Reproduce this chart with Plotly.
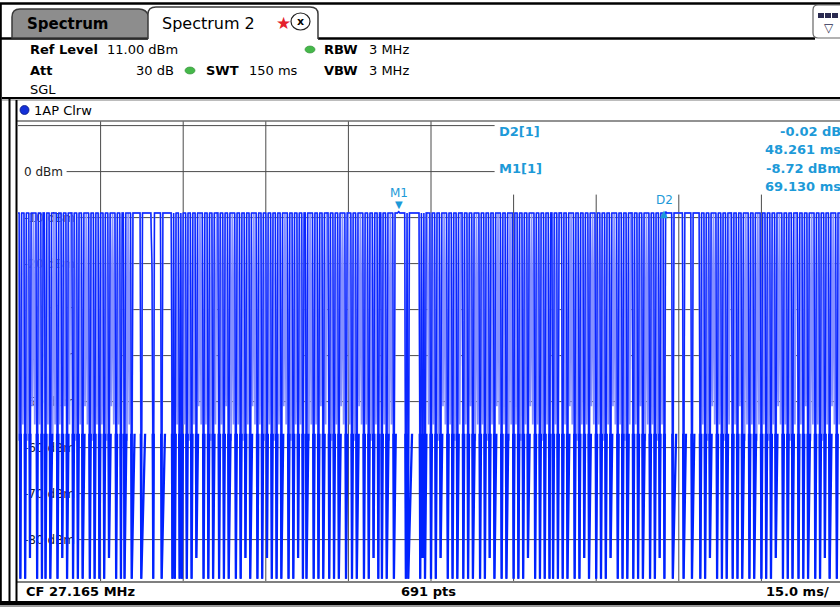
import plotly.graph_objects as go

# ---------------- data ----------------
# trace codes, one character per sweep point, one string per 15 ms division
trace_div0 = "hHoHgHoHhHnHfHgHoHgHoHHoHgHoHhHgHoHgHnHfHoHgHHoHhHoHgHoHfHgHoHhHoHgHo"
trace_div1 = "HgHoHhHnHfHgHoHgHoHHoHhHgHo" "HHHHHHH" "o" "HHHHHHHH" "bo" "HHHHHH" "o" "HHHHHHH" "HoHoHgHoHo"
trace_div2 = "HgHoHhHoHgHnHfHgHoHgHoHhHoHgHHoHgHoHfHoHhHgHoHgHoHhHnHgHoHfHgHoHgHoHh"
trace_div3 = "HnHgHoHhHoHgHoHfHgHoHhHoHgHnHgHoHHoHhHgHoHgHoHfHoHgHHoHhHoHgHoHfHgHoH"
trace_div4 = "HgHoHhHoHfHgHoHgHoHhHnHgHoHHoHgHoHhHgH" "o" "HHHTHHHHH" "oHo" "HHHHHHHHH" "oHnHo" "HHgH"
trace_div5 = "oHgHoHhHnHfHgHoHgHoHhHoHgHHoHgHoHfHoHhHgHoHgHoHhHnHgHoHfHgHoHgHoHhHgH"
trace_div6 = "oHgHoHhHoHgHnHfHgHoHgHoHhHoHgHoHHoHgHoHHHoHgHoHfHgHoHhHoHgHnHgHoHfHgH"
trace_div7 = "oHgHoHhHoHgHnHfHgHoHgHoHhHoHgHHoHgHoHfHoHhHgHoHgHoHhHnHgHo" "THHHHH" "o" "HHHH"
trace_div8 = "HHHH" "o" "HHHHHH" "o" "HHHHHH" "oHgHoHhHnHfHgHoHgHoHhHoHgHHoHgHoHfHoHhHgHoHgHoHhHgH"
trace_div9 = "oHgHoHhHoHgHnHfHgHoHgHoHhHoHgHHoHgHoHfHoHhHgHoHgHoHhHnHgHoHfHgHoHgHoHh"

level_of_code = {"T": -8.72, "H": -9.0, "b": -22.0, "f": -51.0, "g": -55.0,
                 "h": -58.5, "n": -84.0, "o": -88.5}

sweep_ms = 150.0
n_points = 691
ref_level_dbm = 11.0
y_bottom_dbm = -89.0

ytick_vals = [0, -10, -20, -30, -40, -50, -60, -70, -80]
ytick_text = ["0 dBm", "-10 dBm", "-20 dBm", "-30 dBm", "-40 dBm",
              "-50 dBm", "-60 dBm", "-70 dBm", "-80 dBm"]
x_grid_ms = [15, 30, 45, 60, 75, 90, 105, 120, 135]
y_grid_dbm = [10, 0, -10, -20, -30, -40, -50, -60, -70, -80]

m1_time_ms = 69.130
m1_level_dbm = -8.72
d2_delta_ms = 48.261
d2_delta_db = -0.02

# ---------------- build ----------------
codes = "".join([trace_div0, trace_div1, trace_div2, trace_div3, trace_div4,
                 trace_div5, trace_div6, trace_div7, trace_div8, trace_div9])
assert len(codes) == n_points, "len=%d" % len(codes)

levels = [level_of_code[c] for c in codes]
times = [i * sweep_ms / (n_points - 1) for i in range(n_points)]
deep_only = [v if (v <= -70 or v > -40) else -9.0 for v in levels]

W, H = 840, 607
ML, MR, MT, MB = 18, 0, 121, 26
PW, PH = W - ML - MR, H - MT - MB
PX_PER_MS = 826.0 / sweep_ms
x_max = PW / PX_PER_MS
low_band_top = -57.0  # lower band drawn with the heavier stroke
low_band_frac = (low_band_top - y_bottom_dbm) / (ref_level_dbm - y_bottom_dbm)


def px(x):
    return (x - ML) / PW


def py(y):
    return (H - MB - y) / PH


def ms_at(xpix):
    return (xpix - 18.4) / PX_PER_MS


fig = go.Figure()
fig.add_trace(go.Scatter(x=times, y=levels, mode="lines",
                         line=dict(color="#8590ff", width=1.7),
                         hoverinfo="skip"))
fig.add_trace(go.Scatter(x=times, y=deep_only, mode="lines",
                         line=dict(color="#0a26ff", width=1.3),
                         hoverinfo="skip"))
fig.add_trace(go.Scatter(x=times, y=deep_only, mode="lines", xaxis="x2", yaxis="y2",
                         line=dict(color="#0022ff", width=2.3),
                         hoverinfo="skip"))

shapes = []
GRID = "#4a4a4a"
for yv in y_grid_dbm:
    if yv >= 0:
        x0 = ms_at(67) if yv == 0 else 0
        x1 = ms_at(495)
    else:
        x0 = ms_at(78)
        x1 = x_max
    shapes.append(dict(type="line", xref="x", yref="y", x0=x0, x1=x1, y0=yv, y1=yv,
                       line=dict(color=GRID, width=1), layer="between"))
for xv in x_grid_ms:
    ytop = -5 if xv >= 90 else ref_level_dbm
    shapes.append(dict(type="line", xref="x", yref="y", x0=xv, x1=xv, y0=y_bottom_dbm, y1=ytop,
                       line=dict(color=GRID, width=1), layer="between"))


def rect(x0, y0, x1, y1, fill, line=None, lw=0, layer="above"):
    return dict(type="rect", xref="paper", yref="paper", x0=px(x0), x1=px(x1), y0=py(y1), y1=py(y0),
                fillcolor=fill, layer=layer, line=dict(width=lw, color=line or fill))


def hline(x0, x1, y, color, w):
    return dict(type="line", xref="paper", yref="paper", x0=px(x0), x1=px(x1), y0=py(y), y1=py(y),
                line=dict(color=color, width=w))


def vline(x, y0, y1, color, w):
    return dict(type="line", xref="paper", yref="paper", x0=px(x), x1=px(x), y0=py(y0), y1=py(y1),
                line=dict(color=color, width=w))


def path(pts_str, fill=None, color="#333", w=1.5):
    out = []
    for tok in pts_str.split():
        if "," in tok:
            a, b = tok.split(",")
            out.append("%.5f,%.5f" % (px(float(a)), py(float(b))))
        else:
            out.append(tok)
    d = dict(type="path", xref="paper", yref="paper", path=" ".join(out),
             line=dict(color=color, width=w))
    if fill:
        d["fillcolor"] = fill
    return d


shapes.append(hline(16, 840, 121, "#6e6e6e", 1.5))
shapes.append(hline(16, 840, 582, "#555555", 1.5))
shapes.append(hline(0, 840, 3.5, "#000", 2.5))
shapes.append(vline(0.8, 3, 607, "#000", 2))
shapes.append(hline(0, 148, 38.5, "#000", 2.5))
shapes.append(hline(318, 815, 38.5, "#000", 2.5))
shapes.append(hline(2, 840, 98, "#000", 2))
shapes.append(hline(2, 840, 100, "#7a7a7a", 1))
shapes.append(vline(9.5, 99, 604, "#000", 2))
shapes.append(vline(16.5, 100, 604, "#000", 2))
shapes.append(rect(0, 601, 840, 605, "#000"))
shapes.append(rect(0, 605, 840, 607, "#9a9a9a"))
shapes.append(path("M 12,38 L 12,17 Q 12,9 20,9 L 139,9 Q 146,9 149,16 L 152,38 Z",
                   fill="#8d8d8d", color="#3a3a3a", w=1.5))
shapes.append(path("M 148,40 L 148,14 Q 148,7 156,7 L 310,7 Q 318,7 318,14 L 318,40 Z",
                   fill="#ffffff", color="#ffffff", w=0.1))
shapes.append(path("M 148,39 L 148,14 Q 148,7 156,7 L 310,7 Q 318,7 318,14 L 318,39",
                   color="#3a3a3a", w=1.5))
shapes.append(dict(type="circle", xref="paper", yref="paper", x0=px(291), x1=px(310),
                   y0=py(30), y1=py(13), line=dict(color="#222", width=1.2), fillcolor="#fff"))
shapes.append(path("M 845,38 L 818,38 Q 813,38 813,33 L 813,10 Q 813,5 818,5 L 845,5",
                   color="#666", w=1.2))
for xx in (818, 825, 832):
    shapes.append(rect(xx, 13, xx + 6, 18, "#2a2a50"))
for (cx, cy) in ((310, 49.5), (190, 70.5)):
    shapes.append(dict(type="circle", xref="paper", yref="paper", x0=px(cx - 5), x1=px(cx + 5),
                       y0=py(cy + 3.5), y1=py(cy - 3.5), fillcolor="#45b84a",
                       line=dict(color="#2e8a32", width=0.6)))
shapes.append(dict(type="circle", xref="paper", yref="paper", x0=px(20), x1=px(29),
                   y0=py(114.5), y1=py(105.5), fillcolor="#1430d8", line=dict(color="#0a1a80", width=0.8)))

FONT = "DejaVu Sans"
annotations = []


def txt(x, y, s, size=13, color="#000", anchor="left", bold=False, yanchor="middle"):
    annotations.append(dict(xref="paper", yref="paper", x=px(x), y=py(y), text=("<b>%s</b>" % s) if bold else s,
                            showarrow=False, xanchor=anchor, yanchor=yanchor,
                            font=dict(family=FONT, size=size, color=color)))


txt(25, 24.5, "Spectrum", 15, bold=True)
txt(160, 23.5, "Spectrum 2", 16)
txt(283, 23, "★", 17, color="#e4202c", anchor="center")
txt(300.5, 21.5, "x", 11, anchor="center", bold=True)
txt(829, 28, "▽", 12, color="#2a2a50", anchor="center")

txt(28, 50, "Ref Level", 13, bold=True)
txt(105, 50, "11.00 dBm", 13)
txt(28, 70, "Att", 13, bold=True)
txt(176, 70, "30 dB", 13, anchor="right")
txt(204, 70, "SWT", 13, bold=True)
txt(247, 70, "150 ms", 13)
txt(322, 50, "RBW", 13, bold=True)
txt(367, 50, "3 MHz", 13)
txt(322, 70, "VBW", 13, bold=True)
txt(367, 70, "3 MHz", 13)
txt(28, 89.5, "SGL", 13)
txt(32, 110, "1AP Clrw", 13)

txt(24, 591.5, "CF 27.165 MHz", 13, bold=True)
txt(428, 591.5, "691 pts", 13, bold=True, anchor="center")
txt(831, 591.5, "15.0 ms/", 13, bold=True, anchor="right")

MK = "#1d9ad8"
txt(497, 131, "D2[1]", 13, color=MK, bold=True)
txt(497, 168, "M1[1]", 13, color=MK, bold=True)
txt(843, 131, "%.2f dB" % d2_delta_db, 13, color=MK, bold=True, anchor="right")
txt(843, 149.5, "%.3f ms" % d2_delta_ms, 13, color=MK, bold=True, anchor="right")
txt(843, 168, "%.2f dBm" % m1_level_dbm, 13, color=MK, bold=True, anchor="right")
txt(843, 186, "%.3f ms" % m1_time_ms, 13, color=MK, bold=True, anchor="right")

d2_time = m1_time_ms + d2_delta_ms
d2_level = m1_level_dbm + d2_delta_db
annotations.append(dict(x=m1_time_ms, y=m1_level_dbm, xref="x", yref="y", text="▼", showarrow=False,
                        yanchor="bottom", yshift=0, font=dict(family=FONT, size=10, color=MK)))
annotations.append(dict(x=m1_time_ms, y=m1_level_dbm, xref="x", yref="y", text="M1", showarrow=False,
                        yanchor="bottom", yshift=10, font=dict(family=FONT, size=12, color=MK)))
annotations.append(dict(x=d2_time, y=d2_level, xref="x", yref="y", text="▲", showarrow=False,
                        yanchor="middle", yshift=-2, font=dict(family=FONT, size=10, color=MK)))
annotations.append(dict(x=d2_time, y=d2_level, xref="x", yref="y", text="D2", showarrow=False,
                        yanchor="bottom", yshift=3, font=dict(family=FONT, size=12, color=MK)))

fig.update_layout(
    width=W, height=H,
    margin=dict(l=ML, r=MR, t=MT, b=MB, pad=0),
    paper_bgcolor="#ffffff", plot_bgcolor="rgba(0,0,0,0)",
    showlegend=False, hovermode=False,
    shapes=shapes, annotations=annotations,
    xaxis=dict(range=[0, x_max], showgrid=False, zeroline=False, showline=False,
               showticklabels=False, ticks="", fixedrange=True),
    yaxis=dict(range=[y_bottom_dbm, ref_level_dbm], showgrid=False, zeroline=False, showline=False,
               tickvals=ytick_vals, ticktext=ytick_text, ticks="", ticklabelposition="inside",
               ticklabelstandoff=3, layer="below traces",
               tickfont=dict(family=FONT, size=12, color="#222"), fixedrange=True),
    xaxis2=dict(range=[0, x_max], anchor="y2", domain=[0, 1], visible=False, fixedrange=True),
    yaxis2=dict(range=[y_bottom_dbm, low_band_top], anchor="x2", domain=[0, low_band_frac],
                visible=False, fixedrange=True),
)

fig.write_html("out.html", config={"displayModeBar": False, "staticPlot": True},
               post_script="document.body.style.margin='0';document.body.style.overflow='hidden';")
